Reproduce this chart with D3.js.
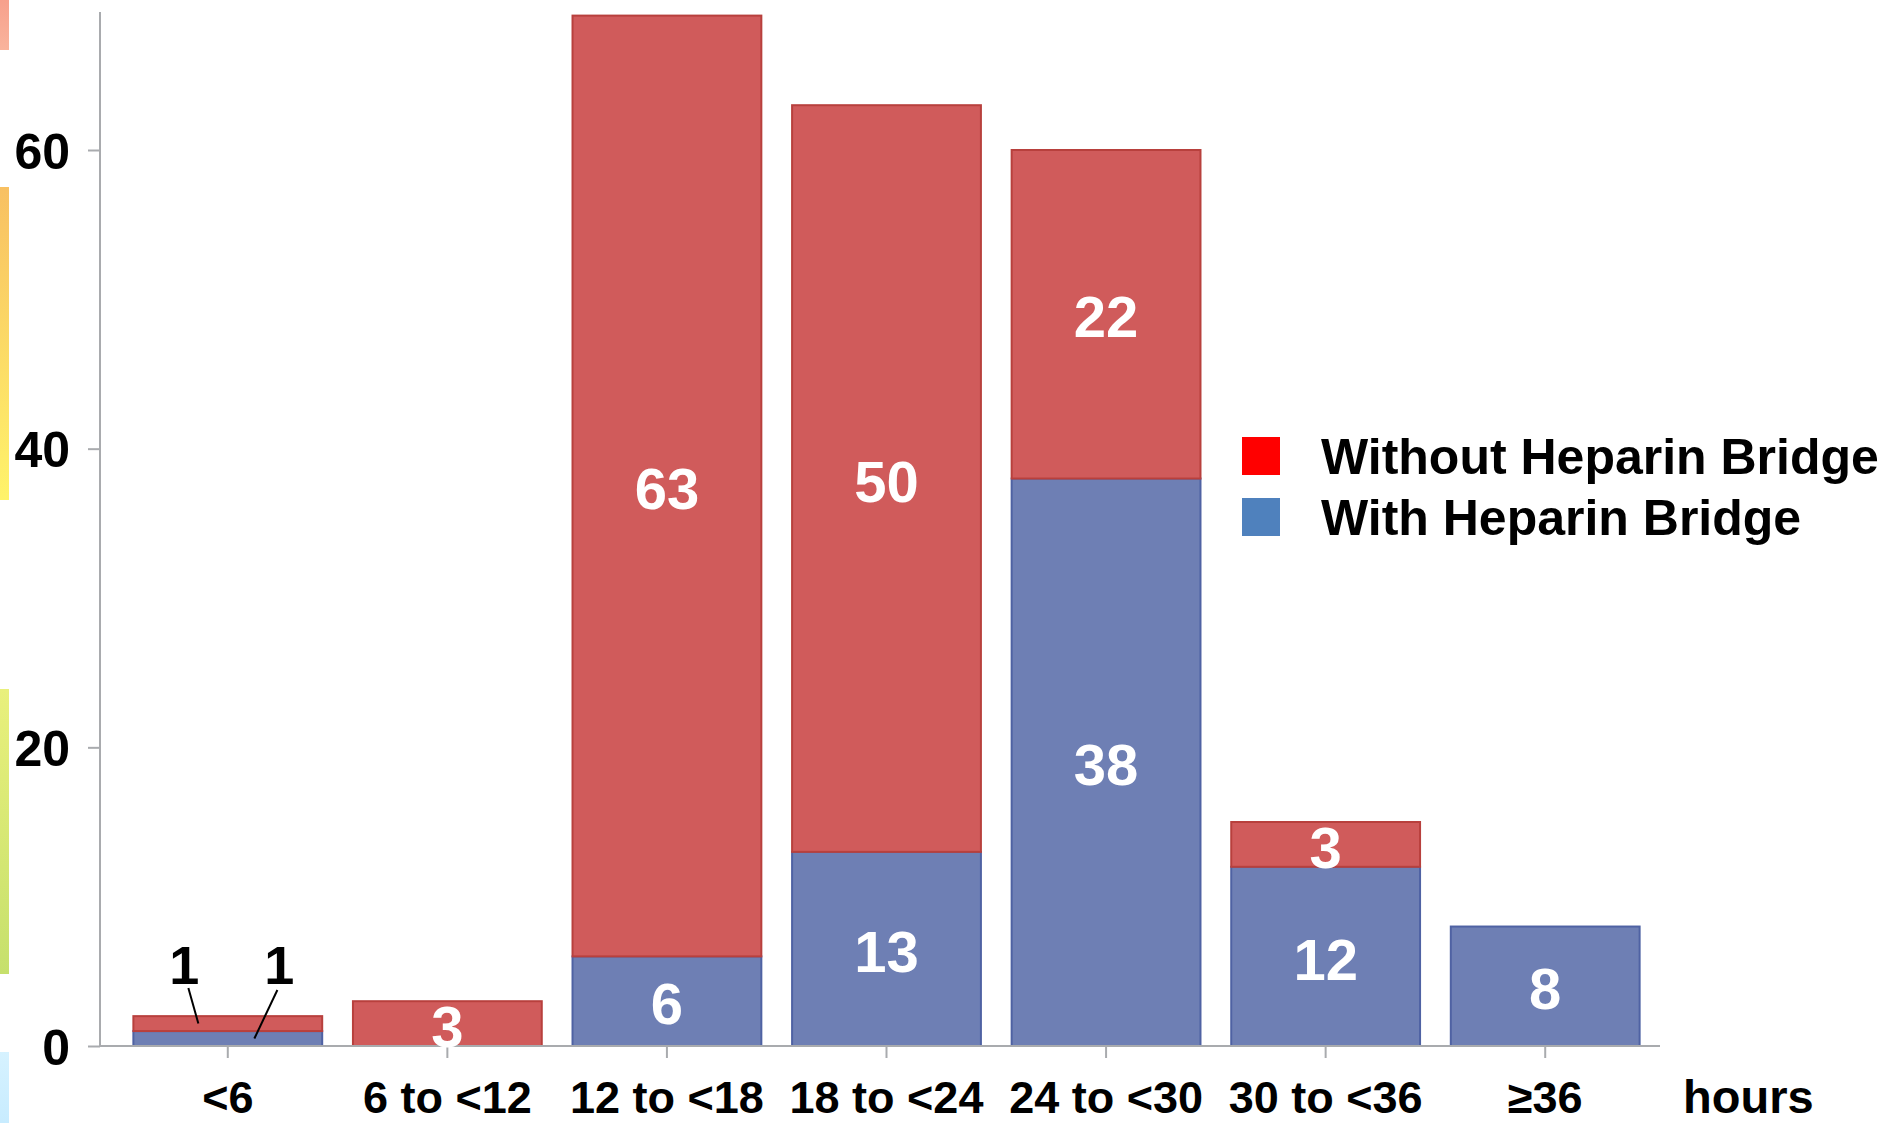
<!DOCTYPE html>
<html>
<head>
<meta charset="utf-8">
<script src="https://cdn.jsdelivr.net/npm/d3@7"></script>
<style>
  html, body { margin: 0; padding: 0; background: #ffffff; }
  svg { display: block; }
</style>
</head>
<body>
<script>
// ---- data ----
const categories = ["<6", "6 to <12", "12 to <18", "18 to <24", "24 to <30", "30 to <36", "\u226536"];
const withBridge = [1, 0, 6, 13, 38, 12, 8];
const withoutBridge = [1, 3, 63, 50, 22, 3, 0];
const seriesNames = ["Without Heparin Bridge", "With Heparin Bridge"];
const yTicks = [0, 20, 40, 60];
const xAxisTitle = "hours";

const W = 1889, H = 1123;
const svg = d3.select("body").append("svg").attr("width", W).attr("height", H);

// decorative coloured strips at the left edge
const defs = svg.append("defs");
function grad(id, c1, c2) {
  const g = defs.append("linearGradient").attr("id", id).attr("x1", 0).attr("y1", 0).attr("x2", 0).attr("y2", 1);
  g.append("stop").attr("offset", "0%").attr("stop-color", c1);
  g.append("stop").attr("offset", "100%").attr("stop-color", c2);
}
grad("g1", "#f7a08c", "#f9b49c");
grad("g2", "#f8c062", "#fff36a");
grad("g3", "#e9f07c", "#c6e06c");
grad("g4", "#d6f2ff", "#c8ecff");
const strips = [[0, 50, "g1"], [187, 313, "g2"], [689, 285, "g3"], [1052, 71, "g4"]];
svg.selectAll("rect.strip").data(strips).join("rect")
  .attr("class", "strip").attr("x", 0).attr("width", 9)
  .attr("y", d => d[0]).attr("height", d => d[1])
  .attr("fill", d => `url(#${d[2]})`);

const x = d3.scaleBand().domain(categories).range([118, 1655]).paddingInner(0.14).paddingOuter(0.07);
const y = d3.scaleLinear().domain([0, 60]).range([1046, 150]);

const data = categories.map((c, i) => ({ cat: c, w: withBridge[i], wo: withoutBridge[i] }));
const stack = d3.stack().keys(["w", "wo"])(data);

const fills = { w: "#6e7fb4", wo: "#d05b5b" };
const strokes = { w: "#4f62a3", wo: "#b8403d" };

const axisColor = "#a9abae";
const font = "'Liberation Sans', Arial, sans-serif";

// bars
stack.forEach(layer => {
  svg.append("g").selectAll("rect").data(layer.filter(d => d[1] - d[0] > 0)).join("rect")
    .attr("x", d => x(d.data.cat))
    .attr("width", x.bandwidth())
    .attr("y", d => y(d[1]))
    .attr("height", d => y(d[0]) - y(d[1]))
    .attr("fill", fills[layer.key])
    .attr("stroke", strokes[layer.key])
    .attr("stroke-width", 2);
});

// y axis
const yAxis = svg.append("g").attr("transform", "translate(100,0)")
  .call(d3.axisLeft(y).tickValues(yTicks).tickSize(12).tickPadding(18));
yAxis.select(".domain").remove();
yAxis.selectAll(".tick line").attr("stroke", axisColor).attr("stroke-width", 2);
yAxis.selectAll(".tick text")
  .attr("font-family", font)
  .attr("font-weight", "bold").attr("font-size", 50).attr("fill", "#000")
  .attr("dy", "0.36em");
svg.append("line").attr("x1", 100).attr("x2", 100).attr("y1", 12).attr("y2", y(0))
  .attr("stroke", axisColor).attr("stroke-width", 2);

// x axis
const xAxis = svg.append("g").attr("transform", `translate(0,${y(0)})`)
  .call(d3.axisBottom(x).tickSize(12).tickPadding(24));
xAxis.select(".domain").remove();
xAxis.selectAll(".tick line").attr("stroke", axisColor).attr("stroke-width", 2);
xAxis.selectAll(".tick text")
  .attr("font-family", font)
  .attr("font-weight", "bold").attr("font-size", 45).attr("fill", "#000")
  .attr("dy", "0.69em");
svg.append("line").attr("x1", 100).attr("x2", 1660).attr("y1", y(0)).attr("y2", y(0))
  .attr("stroke", axisColor).attr("stroke-width", 2);

svg.append("text").attr("x", 1683).attr("y", 1113)
  .attr("font-family", font)
  .attr("font-weight", "bold").attr("font-size", 47).attr("fill", "#000")
  .text(xAxisTitle);

// value labels inside segments (skip the tiny "<6" segments, annotated outside)
stack.forEach(layer => {
  svg.append("g").selectAll("text")
    .data(layer.filter(d => d[1] - d[0] > 0 && d.data.cat !== categories[0]))
    .join("text")
    .attr("x", d => x(d.data.cat) + x.bandwidth() / 2)
    .attr("y", d => y((d[0] + d[1]) / 2))
    .attr("dy", "0.4em")
    .attr("text-anchor", "middle")
    .attr("font-family", font).attr("font-weight", "bold").attr("font-size", 58)
    .attr("fill", "#fff")
    .text(d => d[1] - d[0]);
});

// callouts for the "<6" bar
const first = data[0];
const cx = x(first.cat);
const callouts = [
  { value: first.wo, tx: cx + 51, lx1: cx + 55, ly1: 988, lx2: cx + 65, vy: first.w + first.wo / 2 },
  { value: first.w, tx: cx + 146, lx1: cx + 144, ly1: 990, lx2: cx + 121, vy: first.w / 2 }
];
callouts.forEach(c => {
  svg.append("line").attr("x1", c.lx1).attr("y1", c.ly1).attr("x2", c.lx2).attr("y2", y(c.vy))
    .attr("stroke", "#000").attr("stroke-width", 2);
  svg.append("text").attr("x", c.tx).attr("y", 984).attr("text-anchor", "middle")
    .attr("font-family", font).attr("font-weight", "bold").attr("font-size", 54)
    .attr("fill", "#000").text(c.value);
});

// legend
const legendColors = ["#ff0000", "#4f81bd"];
const lg = svg.append("g");
seriesNames.forEach((name, i) => {
  const yy = 437 + i * 61;
  lg.append("rect").attr("x", 1242).attr("y", yy).attr("width", 38).attr("height", 38).attr("fill", legendColors[i]);
  lg.append("text").attr("x", 1321).attr("y", yy + 37)
    .attr("font-family", font).attr("font-weight", "bold").attr("font-size", 50)
    .attr("fill", "#000").text(name);
});
</script>
</body>
</html>
